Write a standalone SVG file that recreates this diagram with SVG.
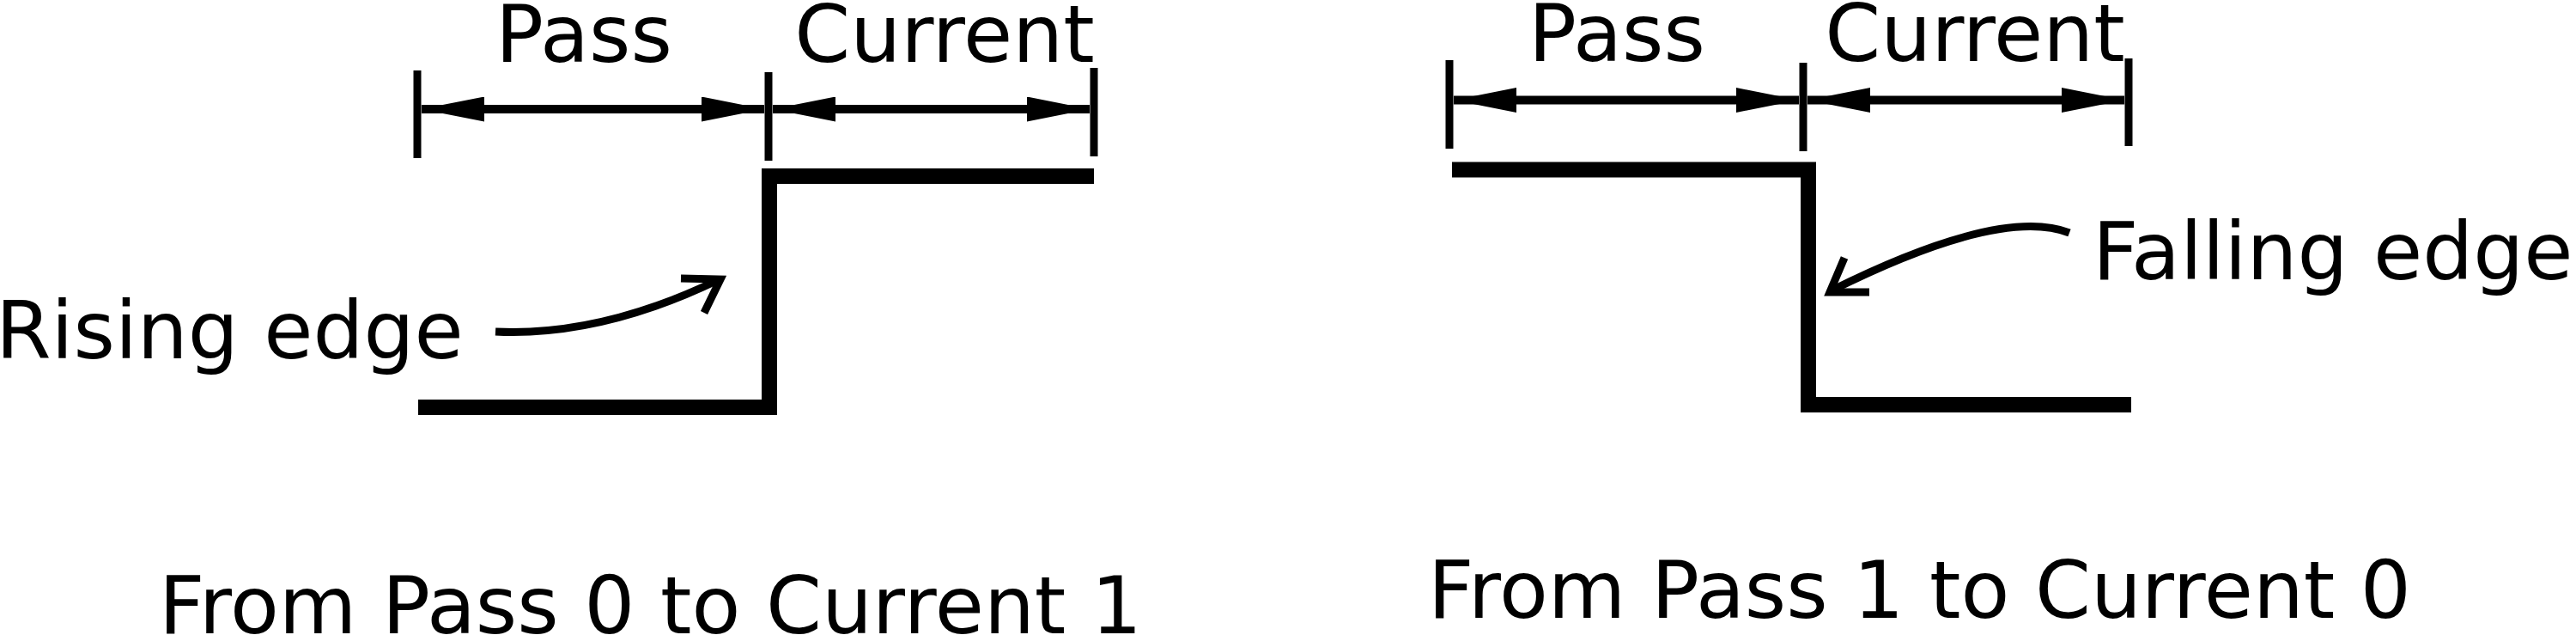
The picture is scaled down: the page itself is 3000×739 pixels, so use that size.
<svg xmlns="http://www.w3.org/2000/svg" width="3000" height="739" viewBox="0 0 3000 739">
<style>
  .lbl { font-family: "DejaVu Sans", sans-serif; font-size: 93px; fill: #000; }
  .tick { stroke: #000; stroke-width: 9; fill: none; }
  .dim { stroke: #000; stroke-width: 10; fill: none; }
  .step { stroke: #000; stroke-width: 18; fill: none; stroke-linejoin: miter; stroke-linecap: butt; }
  .curve { stroke: #000; stroke-width: 9; fill: none; stroke-linecap: butt; }
  .head { stroke: #000; stroke-width: 9; fill: none; stroke-linejoin: miter; stroke-miterlimit: 10; }
</style>
<defs>
  <marker id="ah" viewBox="0 0 73 29" refX="73" refY="14.5" markerWidth="73" markerHeight="29" markerUnits="userSpaceOnUse" orient="auto-start-reverse">
    <path d="M0,0 L73,14.5 L0,29 Z" fill="#000"/>
  </marker>
</defs>
<rect width="3000" height="739" fill="#fff"/>

<g id="rising">
  <g id="rising-dims">
    <line class="tick" x1="486" y1="82" x2="486" y2="184"/>
    <line class="tick" x1="895" y1="84" x2="895" y2="187"/>
    <line class="tick" x1="1274" y1="79" x2="1274" y2="182"/>
    <line class="dim" x1="491" y1="127" x2="890" y2="127" marker-start="url(#ah)" marker-end="url(#ah)"/>
    <line class="dim" x1="900" y1="127" x2="1269" y2="127" marker-start="url(#ah)" marker-end="url(#ah)"/>
  </g>
  <polyline id="rising-step" class="step" points="487,474 896,474 896,205 1274,205"/>
  <text id="rising-pass" class="lbl" x="680" y="72" text-anchor="middle">Pass</text>
  <text id="rising-current" class="lbl" x="1100" y="72" text-anchor="middle">Current</text>
  <text id="rising-label" class="lbl" x="-5" y="417">Rising edge</text>
  <text id="rising-caption" class="lbl" x="185" y="737" font-size="92">From Pass 0 to Current 1</text>
</g>

<g id="falling">
  <g id="falling-dims">
    <line class="tick" x1="1688" y1="70" x2="1688" y2="173"/>
    <line class="tick" x1="2100" y1="73" x2="2100" y2="176"/>
    <line class="tick" x1="2479" y1="68" x2="2479" y2="170"/>
    <line class="dim" x1="1693" y1="116.5" x2="2095" y2="116.5" marker-start="url(#ah)" marker-end="url(#ah)"/>
    <line class="dim" x1="2105" y1="116.5" x2="2474" y2="116.5" marker-start="url(#ah)" marker-end="url(#ah)"/>
  </g>
  <polyline id="falling-step" class="step" points="1691,197.5 2106,197.5 2106,471 2482,471"/>
  <text id="falling-pass" class="lbl" x="1883" y="71" text-anchor="middle">Pass</text>
  <text id="falling-current" class="lbl" x="2300" y="71" text-anchor="middle">Current</text>
  <text id="falling-label" class="lbl" x="2437" y="325">Falling edge</text>
  <text id="falling-caption" class="lbl" x="1663" y="719" font-size="92">From Pass 1 to Current 0</text>
</g>

<g id="connectors">
  <path class="curve" d="M577,386 Q700,392 838,325"/>
  <polyline class="head" points="793,324 839,325 820,364"/>
  <path class="curve" d="M2410,271 Q2330,240 2133,338"/>
  <polyline class="head" points="2148,300 2131,340 2177,340"/>
</g>
</svg>
